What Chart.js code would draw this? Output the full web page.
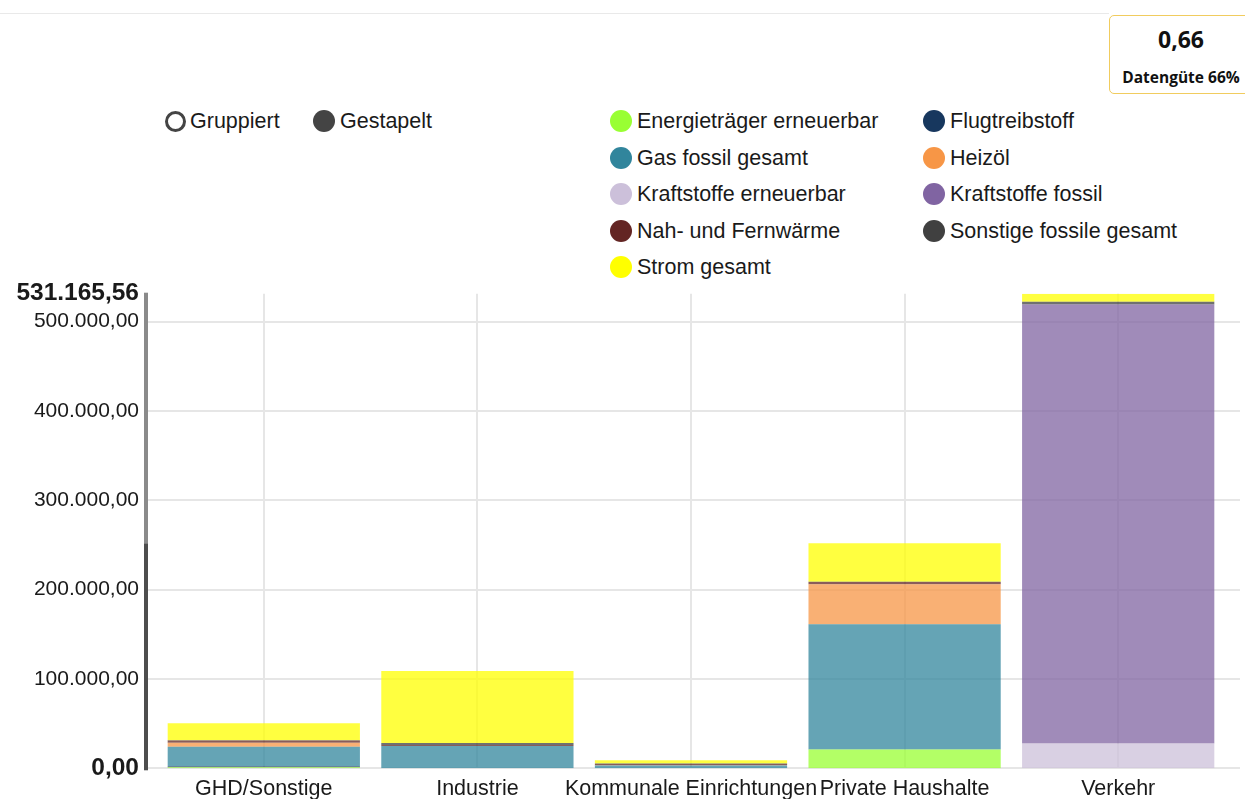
<!DOCTYPE html>
<html lang="de">
<head>
<meta charset="utf-8">
<title>Endenergie nach Sektoren</title>
<script src="https://cdn.jsdelivr.net/npm/chart.js@4.4.0/dist/chart.umd.min.js"></script>
<style>
    body {
        margin: 0;
        width: 1245px;
        height: 799px;
        overflow: hidden;
        background: #fff;
        position: relative;
        font-family: "Liberation Sans", Arial, sans-serif;
        color: #1a1a1a;
    }
    .topline {
        position: absolute;
        left: 0;
        top: 13px;
        width: 1109px;
        border-top: 1px solid #e9e9e9;
    }
    .quality {
        position: absolute;
        left: 1109px;
        top: 15px;
        width: 150px;
        height: 79px;
        box-sizing: border-box;
        border: 1px solid #f1cc5e;
        border-radius: 5px;
        font-family: "Open Sans", sans-serif;
        font-weight: 700;
        color: #111;
    }
    .quality .value { position: absolute; left: 0; width: 142px; text-align: center; top: 7px; font-size: 23px; }
    .quality .label { position: absolute; left: 0; width: 142px; text-align: center; top: 50px; font-size: 15.5px; }
    .item {
        position: absolute;
        height: 24px;
        line-height: 24px;
        font-size: 21.5px;
        white-space: nowrap;
        display: flex;
        align-items: center;
    }
    .dot {
        display: inline-block;
        width: 22px;
        height: 22px;
        border-radius: 50%;
        margin-right: 5px;
        box-sizing: border-box;
        flex: none;
    }
    #wrap {
        position: absolute;
        left: 0;
        top: 261px;
        width: 1245px;
        height: 540px;
    }
</style>
</head>
<body>
<div class="topline"></div>
<div class="quality"><div class="value">0,66</div><div class="label">Datengüte 66%</div></div>

<div class="item" style="left:165px; top:109px;"><span class="dot" style="border:3px solid #444; width:21px; height:21px; margin-right:4px;"></span>Gruppiert</div>
<div class="item" style="left:313px; top:109px;"><span class="dot" style="background:#444;"></span>Gestapelt</div>

<div id="legend"></div>

<div id="wrap"><canvas id="myChart"></canvas></div>

<script>
const sectors = ['GHD/Sonstige', 'Industrie', 'Kommunale Einrichtungen', 'Private Haushalte', 'Verkehr'];

// Werte je Energieträger, Reihenfolge wie sectors
const energietraegerErneuerbar = [1200, 0, 0, 21000, 0];
const flugtreibstoff = [1000, 0, 0, 0, 0];
const gasFossil = [22000, 25000, 3000, 140100, 0];
const heizoel = [4500, 0, 500, 44800, 0];
const kraftstoffeErneuerbar = [0, 0, 0, 0, 27700];
const kraftstoffeFossil = [0, 0, 0, 0, 491500];
const nahFernwaerme = [2300, 1200, 1200, 2500, 0];
const sonstigeFossile = [500, 2000, 800, 400, 2900];
const stromGesamt = [19000, 80700, 3500, 43000, 9065.56];

const yTicks = [0, 100000, 200000, 300000, 400000, 500000];
const yMax = 531165.56;

const series = [
    { label: 'Energieträger erneuerbar', data: energietraegerErneuerbar, color: [153, 255, 51] },
    { label: 'Flugtreibstoff', data: flugtreibstoff, color: [23, 55, 94] },
    { label: 'Gas fossil gesamt', data: gasFossil, color: [49, 133, 156] },
    { label: 'Heizöl', data: heizoel, color: [247, 150, 70] },
    { label: 'Kraftstoffe erneuerbar', data: kraftstoffeErneuerbar, color: [204, 192, 218] },
    { label: 'Kraftstoffe fossil', data: kraftstoffeFossil, color: [128, 100, 162] },
    { label: 'Nah- und Fernwärme', data: nahFernwaerme, color: [99, 37, 35] },
    { label: 'Sonstige fossile gesamt', data: sonstigeFossile, color: [64, 64, 64] },
    { label: 'Strom gesamt', data: stromGesamt, color: [255, 255, 0] }
];

function formatDe(v) {
    const parts = v.toFixed(2).split('.');
    const int = parts[0].replace(/\B(?=(\d{3})+(?!\d))/g, '.');
    return int + ',' + parts[1];
}

// Legende in zwei Spalten
const legend = document.getElementById('legend');
series.forEach((s, i) => {
    const el = document.createElement('div');
    el.className = 'item';
    el.style.left = (i % 2 === 0 ? 610 : 923) + 'px';
    el.style.top = (109 + Math.floor(i / 2) * 36.5) + 'px';
    el.innerHTML = '<span class="dot" style="background:rgb(' + s.color.join(',') + ')"></span>' + s.label;
    legend.appendChild(el);
});

// Stapelsummen für die Markierung an der Y-Achse
const totals = sectors.map((_, i) => series.reduce((sum, s) => sum + s.data[i], 0));
const secondHighest = totals.slice().sort((a, b) => b - a)[1];

const axisDecor = {
    id: 'axisDecor',
    beforeDatasetsDraw(chart) {
        const { ctx, chartArea, scales } = chart;
        ctx.save();
        ctx.strokeStyle = '#e6e6e6';
        ctx.lineWidth = 2;
        yTicks.forEach(v => {
            const y = Math.round(scales.y.getPixelForValue(v));
            ctx.beginPath();
            ctx.moveTo(chartArea.left - 9, y);
            ctx.lineTo(chartArea.right + 15, y);
            ctx.stroke();
        });
        ctx.restore();
    },
    afterDraw(chart) {
        const { ctx, chartArea, scales } = chart;
        const x = chartArea.left - 11;
        const yTop = scales.y.getPixelForValue(yMax) - 1;
        const yMid = scales.y.getPixelForValue(secondHighest);
        const yBottom = scales.y.getPixelForValue(0) + 2;
        ctx.save();
        ctx.lineWidth = 4;
        ctx.strokeStyle = '#8a8a8a';
        ctx.beginPath();
        ctx.moveTo(x, yTop);
        ctx.lineTo(x, yMid);
        ctx.stroke();
        ctx.strokeStyle = '#4d4d4d';
        ctx.beginPath();
        ctx.moveTo(x, yMid);
        ctx.lineTo(x, yBottom);
        ctx.stroke();
        ctx.restore();
    }
};

const font = '"Liberation Sans", Arial, sans-serif';
const ctx = document.getElementById('myChart').getContext('2d');

new Chart(ctx, {
    type: 'bar',
    data: {
        labels: sectors,
        datasets: series.map(s => ({
            label: s.label,
            data: s.data,
            backgroundColor: 'rgba(' + s.color.join(',') + ',0.75)',
            borderWidth: 0,
            barPercentage: 0.9,
            categoryPercentage: 1.0
        }))
    },
    options: {
        responsive: true,
        maintainAspectRatio: false,
        animation: false,
        layout: { padding: { top: 0, right: 20, left: 0, bottom: 0 } },
        plugins: {
            legend: { display: false },
            tooltip: { enabled: false }
        },
        scales: {
            x: {
                stacked: true,
                grid: { offset: false, color: '#e6e6e6', lineWidth: 2, drawTicks: false },
                border: { display: false },
                ticks: {
                    autoSkip: false,
                    maxRotation: 0,
                    minRotation: 0,
                    padding: 8,
                    color: '#1a1a1a',
                    font: { family: font, size: 21.5 }
                },
                afterFit(scale) { scale.height = 31; }
            },
            y: {
                stacked: true,
                min: 0,
                max: yMax,
                grid: { display: false, drawTicks: false },
                border: { display: false },
                afterBuildTicks(scale) {
                    scale.ticks = yTicks.concat([yMax]).map(v => ({ value: v }));
                },
                afterFit(scale) { scale.width = 157; },
                ticks: {
                    autoSkip: false,
                    padding: 18,
                    color: '#1a1a1a',
                    callback: v => formatDe(v),
                    font: c => (c.tick && (c.tick.value === 0 || c.tick.value === yMax))
                        ? { family: font, size: 24.5, weight: 'bold' }
                        : { family: font, size: 21 }
                }
            }
        }
    },
    plugins: [axisDecor]
});
</script>
</body>
</html>
